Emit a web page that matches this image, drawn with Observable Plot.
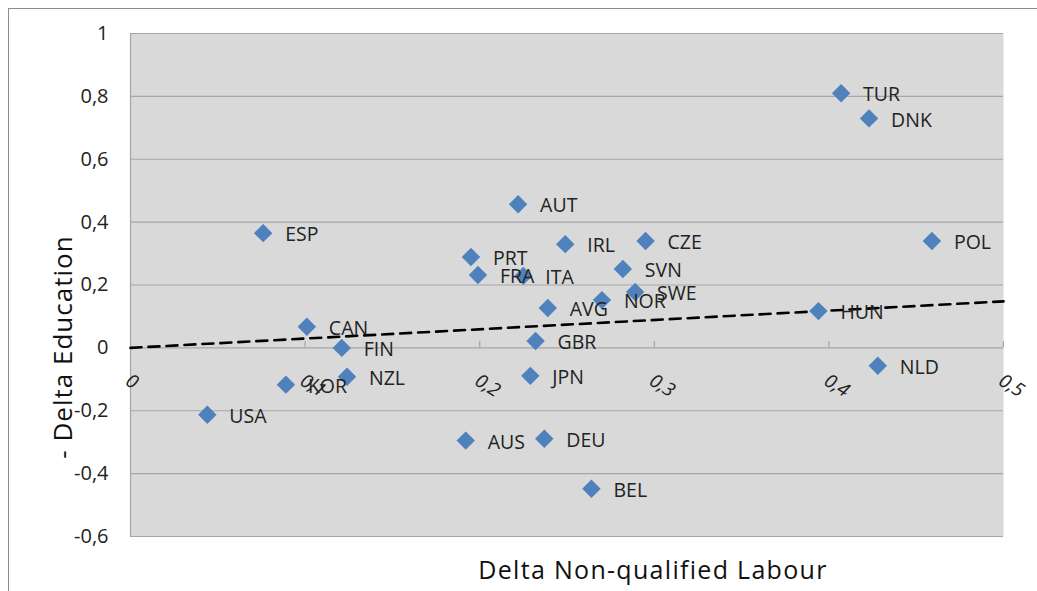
<!DOCTYPE html>
<html>
<head>
<meta charset="utf-8">
<script src="https://cdn.jsdelivr.net/npm/d3@7"></script>
<script src="https://cdn.jsdelivr.net/npm/@observablehq/plot@0.6"></script>
<style>
  html, body { margin: 0; padding: 0; background: #fff; overflow: hidden; }
  #wrap { position: relative; width: 1037px; height: 591px; }
  #border { position: absolute; left: 8px; top: 8px; width: 1100px; height: 700px; border: 1.5px solid #8c8c8c; box-sizing: border-box; pointer-events: none; }
  #chart { position: absolute; left: 0; top: 0; }
</style>
</head>
<body>
<div id="wrap"><div id="border"></div><div id="chart"></div></div>
<script>
const countries = ["TUR","DNK","POL","HUN","NLD","AUT","ESP","PRT","FRA","ITA","IRL","CZE","SVN","SWE","NOR","AVG","GBR","JPN","AUS","DEU","BEL","CAN","FIN","NZL","KOR","USA"];
const labourDelta = [0.407,0.423,0.459,0.394,0.428,0.222,0.076,0.195,0.199,0.225,0.249,0.295,0.282,0.289,0.270,0.239,0.232,0.229,0.192,0.237,0.264,0.101,0.121,0.124,0.089,0.044];
const educationDelta = [0.810,0.730,0.340,0.117,-0.057,0.457,0.365,0.289,0.232,0.229,0.330,0.340,0.251,0.178,0.152,0.127,0.022,-0.089,-0.295,-0.289,-0.448,0.067,0.000,-0.092,-0.117,-0.213];
const trendX = [0, 0.5];
const trendY = [0, 0.148];
const xTicks = [0, 0.1, 0.2, 0.3, 0.4, 0.5];
const yTicks = [-0.6, -0.4, -0.2, 0, 0.2, 0.4, 0.6, 0.8, 1];
const xTitle = "Delta Non-qualified Labour";
const yTitle = "- Delta Education";

const points = countries.map((c, i) => ({c, x: labourDelta[i], y: educationDelta[i]}));
const trend = trendX.map((x, i) => ({x, y: trendY[i]}));
const fmt = d => String(+d.toFixed(1)).replace(".", ",");
const font = "'Open Sans', 'Noto Sans', sans-serif";
const grid = "#a6a6a6";

const chart = Plot.plot({
  width: 1037,
  height: 591,
  marginLeft: 130,
  marginRight: 34,
  marginTop: 33,
  marginBottom: 55,
  style: {fontFamily: font, background: "transparent", overflow: "visible"},
  x: {domain: [0, 0.5], axis: null},
  y: {domain: [-0.6, 1], axis: null},
  marks: [
    Plot.frame({fill: "#d9d9d9"}),
    Plot.ruleY(yTicks, {stroke: grid, strokeWidth: 1.2}),
    Plot.ruleX([0], {stroke: grid, strokeWidth: 1.2}),
    Plot.ruleX(xTicks.slice(1), {y1: 0, y2: 0.02, stroke: grid, strokeWidth: 1.2}),
    Plot.text(yTicks, {x: 0, y: d => d, text: fmt, textAnchor: "end", dx: -22, fontSize: 20, fill: "#222"}),
    Plot.text(xTicks, {x: d => d, y: 0, text: fmt, textAnchor: "start", rotate: 32, dx: -3, dy: 31, fontSize: 19, fontStyle: "italic", fill: "#222"}),
    Plot.line(trend, {x: "x", y: "y", stroke: "#000", strokeWidth: 2.6, strokeDasharray: "11,7"}),
    Plot.dot(points, {x: "x", y: "y", symbol: "diamond2", r: 8.3, fill: "#4f81bd", stroke: "none"}),
    Plot.text(points, {x: "x", y: "y", text: "c", textAnchor: "start", dx: 22, dy: 2, fontSize: 19.5, fill: "#222"}),
    Plot.text([yTitle], {text: d => d, frameAnchor: "left", rotate: -90, dx: -67, dy: 62, fontSize: 26, fill: "#111", textAnchor: "middle"}),
    Plot.text([xTitle], {text: d => d, frameAnchor: "bottom", dx: 86, dy: 42, fontSize: 25, fill: "#111", textAnchor: "middle"})
  ]
});
d3.select(chart).selectAll("text").each(function() {
  const t = this.textContent;
  if (t === xTitle) this.setAttribute("letter-spacing", "1.3");
  if (t === yTitle) this.setAttribute("letter-spacing", "1");
});
document.getElementById("chart").appendChild(chart);
</script>
</body>
</html>
